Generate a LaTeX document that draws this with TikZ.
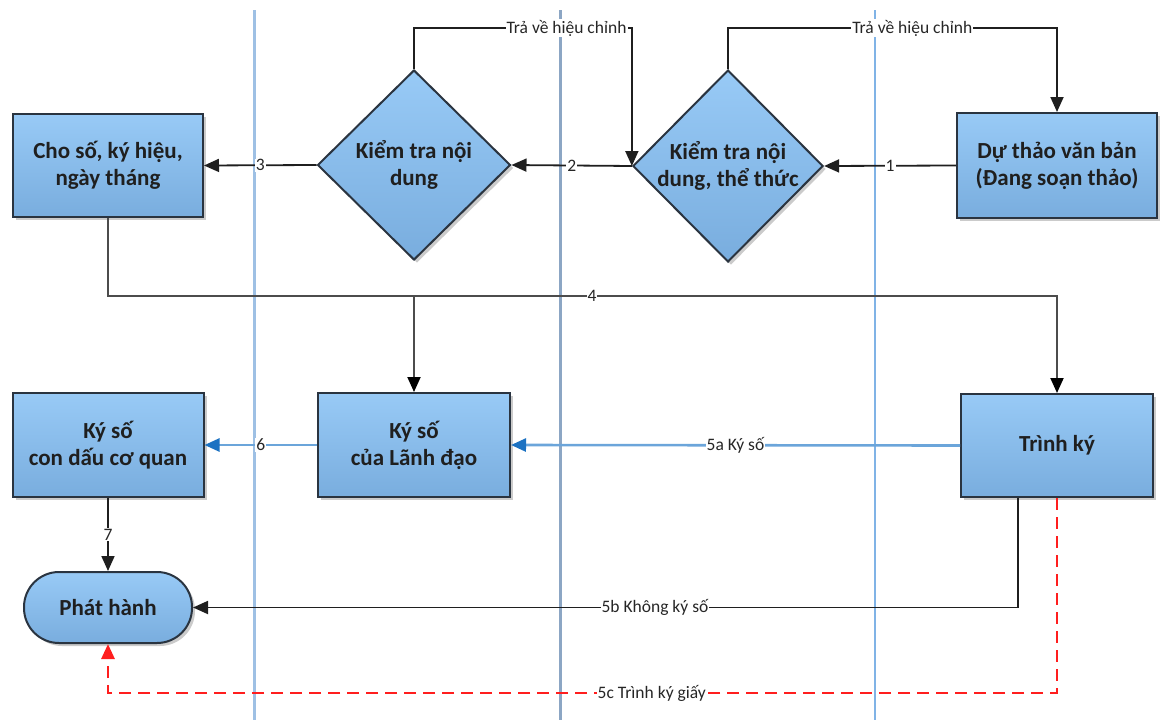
\documentclass[tikz,border=0pt]{standalone}
\usepackage{fontspec}
\setmainfont{Carlito}
\usetikzlibrary{shapes.geometric,arrows.meta,shadows}

\definecolor{boxtop}{HTML}{98CAF6}
\definecolor{boxbot}{HTML}{79ADDE}
\definecolor{boxline}{HTML}{2A3440}
\definecolor{flowblue}{HTML}{6BA5DA}
\definecolor{tipblue}{HTML}{1C72C2}
\definecolor{laneA}{HTML}{9EC0E4}
\definecolor{laneB}{HTML}{8CA6C4}
\definecolor{laneC}{HTML}{80B3E6}
\definecolor{paperred}{HTML}{FF1E1E}

\tikzset{
  base/.style={draw=boxline, line width=2pt, top color=boxtop, bottom color=boxbot,
    drop shadow={shadow xshift=3pt, shadow yshift=-3pt, fill=black!45, opacity=0.45},
    font=\fontsize{23}{27}\selectfont\bfseries, text=black!88, align=center, inner sep=0pt},
  proc/.style={base, rectangle, minimum width=191pt, minimum height=104pt},
  decide/.style={base, diamond, aspect=1, minimum width=192pt, minimum height=192pt},
  term/.style={base, rectangle, rounded corners=35pt, minimum width=168pt, minimum height=71pt},
  tip/.style={-{Triangle[length=15pt,width=13pt]}},
  flow/.style={draw=black!88, line width=1.8pt, tip},
  greyflow/.style={draw=black!70, line width=1.9pt, -{Triangle[length=15pt,width=13pt,fill=black,color=black]}},
  bflow/.style={draw=flowblue, line width=2.6pt, -{Triangle[length=15pt,width=13pt,fill=tipblue,color=tipblue]}},
  redflow/.style={draw=paperred, line width=2.8pt, dash pattern=on 12pt off 7pt,
    -{Triangle[length=15pt,width=13pt,fill=paperred,color=paperred]}},
  lbl/.style={fill=white, inner sep=1pt, font=\fontsize{17.5}{20}\selectfont, text=black!85},
}

\begin{document}
\begin{tikzpicture}[x=1pt, y=-1pt]
  \useasboundingbox (0,0) rectangle (1163,720);

  % swimlane separators
  \draw[laneA, line width=3pt] (254,10) -- (254,720);
  \draw[laneB, line width=3pt] (560,10) -- (560,720);
  \draw[laneC, line width=1.5pt] (875,10) -- (875,720);

  % helper rows for routed connectors
  \coordinate (ret)  at (0,28);
  \coordinate (bus)  at (0,296);
  \coordinate (bot)  at (0,693);

  % process steps
  \node[proc, minimum width=190pt, minimum height=103pt] (cho) at (108,165.5) {Cho số, ký hiệu,\\ngày tháng};
  \node[decide, minimum width=193pt, minimum height=190pt] (d1) at (414,165) {Kiểm tra nội\\dung};
  \node[decide, minimum width=190pt, minimum height=192pt] (d2) at (728,166) {Kiểm tra nội\\dung, thể thức};
  \node[proc, minimum width=200pt, minimum height=105pt] (draft) at (1057,165.5) {Dự thảo văn bản\\(Đang soạn thảo)};

  \node[proc] (kycq) at (108,445) {Ký số\\con dấu cơ quan};
  \node[proc, minimum width=192pt] (kyld) at (414,445) {Ký số\\của Lãnh đạo};
  \node[proc, minimum width=192pt, minimum height=103pt] (trinh) at (1057,445.5) {Trình ký};

  \node[term] (phat) at (108,607.5) {Phát hành};

  % main sequence
  \draw[flow] (draft.west) -- node[lbl] {1} (d2.east);
  \draw[flow] (d2.west) -- node[lbl] {2} (d1.east);
  \draw[flow] (d1.west) -- node[lbl] {3} (cho.east);

  % returns for correction
  \draw[flow] (d1.north) -- (d1.north |- ret)
    -- node[lbl, pos=0.7] {Trả về hiệu chỉnh} (d2.west |- ret) -- (d2.west);
  \draw[flow] (d2.north) -- (d2.north |- ret)
    -- node[lbl, pos=0.56] {Trả về hiệu chỉnh} (draft.north |- ret) -- (draft.north);

  % numbering done: to leader and to submission
  \draw[greyflow] (cho.south) -- (cho.south |- bus)
    -- node[lbl, pos=0.51] {4} (trinh.north |- bus) -- (trinh.north);
  \draw[greyflow] (kyld.north |- bus) -- (kyld.north);

  % digital signing chain
  \draw[bflow] (trinh.west) -- node[lbl] {5a Ký số} (kyld.east);
  \draw[bflow] (kyld.west) -- node[lbl] {6} (kycq.east);
  \draw[flow] (kycq.south) -- node[lbl] {7} (phat.north);

  % without digital signature
  \draw[flow] ([xshift=-39pt]trinh.south) |- node[lbl, pos=0.72] {5b Không ký số} (phat.east);

  % paper signing
  \draw[redflow] (trinh.south) -- (trinh.south |- bot)
    -- node[lbl, pos=0.427] {5c Trình ký giấy} (phat.south |- bot) -- (phat.south);
\end{tikzpicture}
\end{document}
